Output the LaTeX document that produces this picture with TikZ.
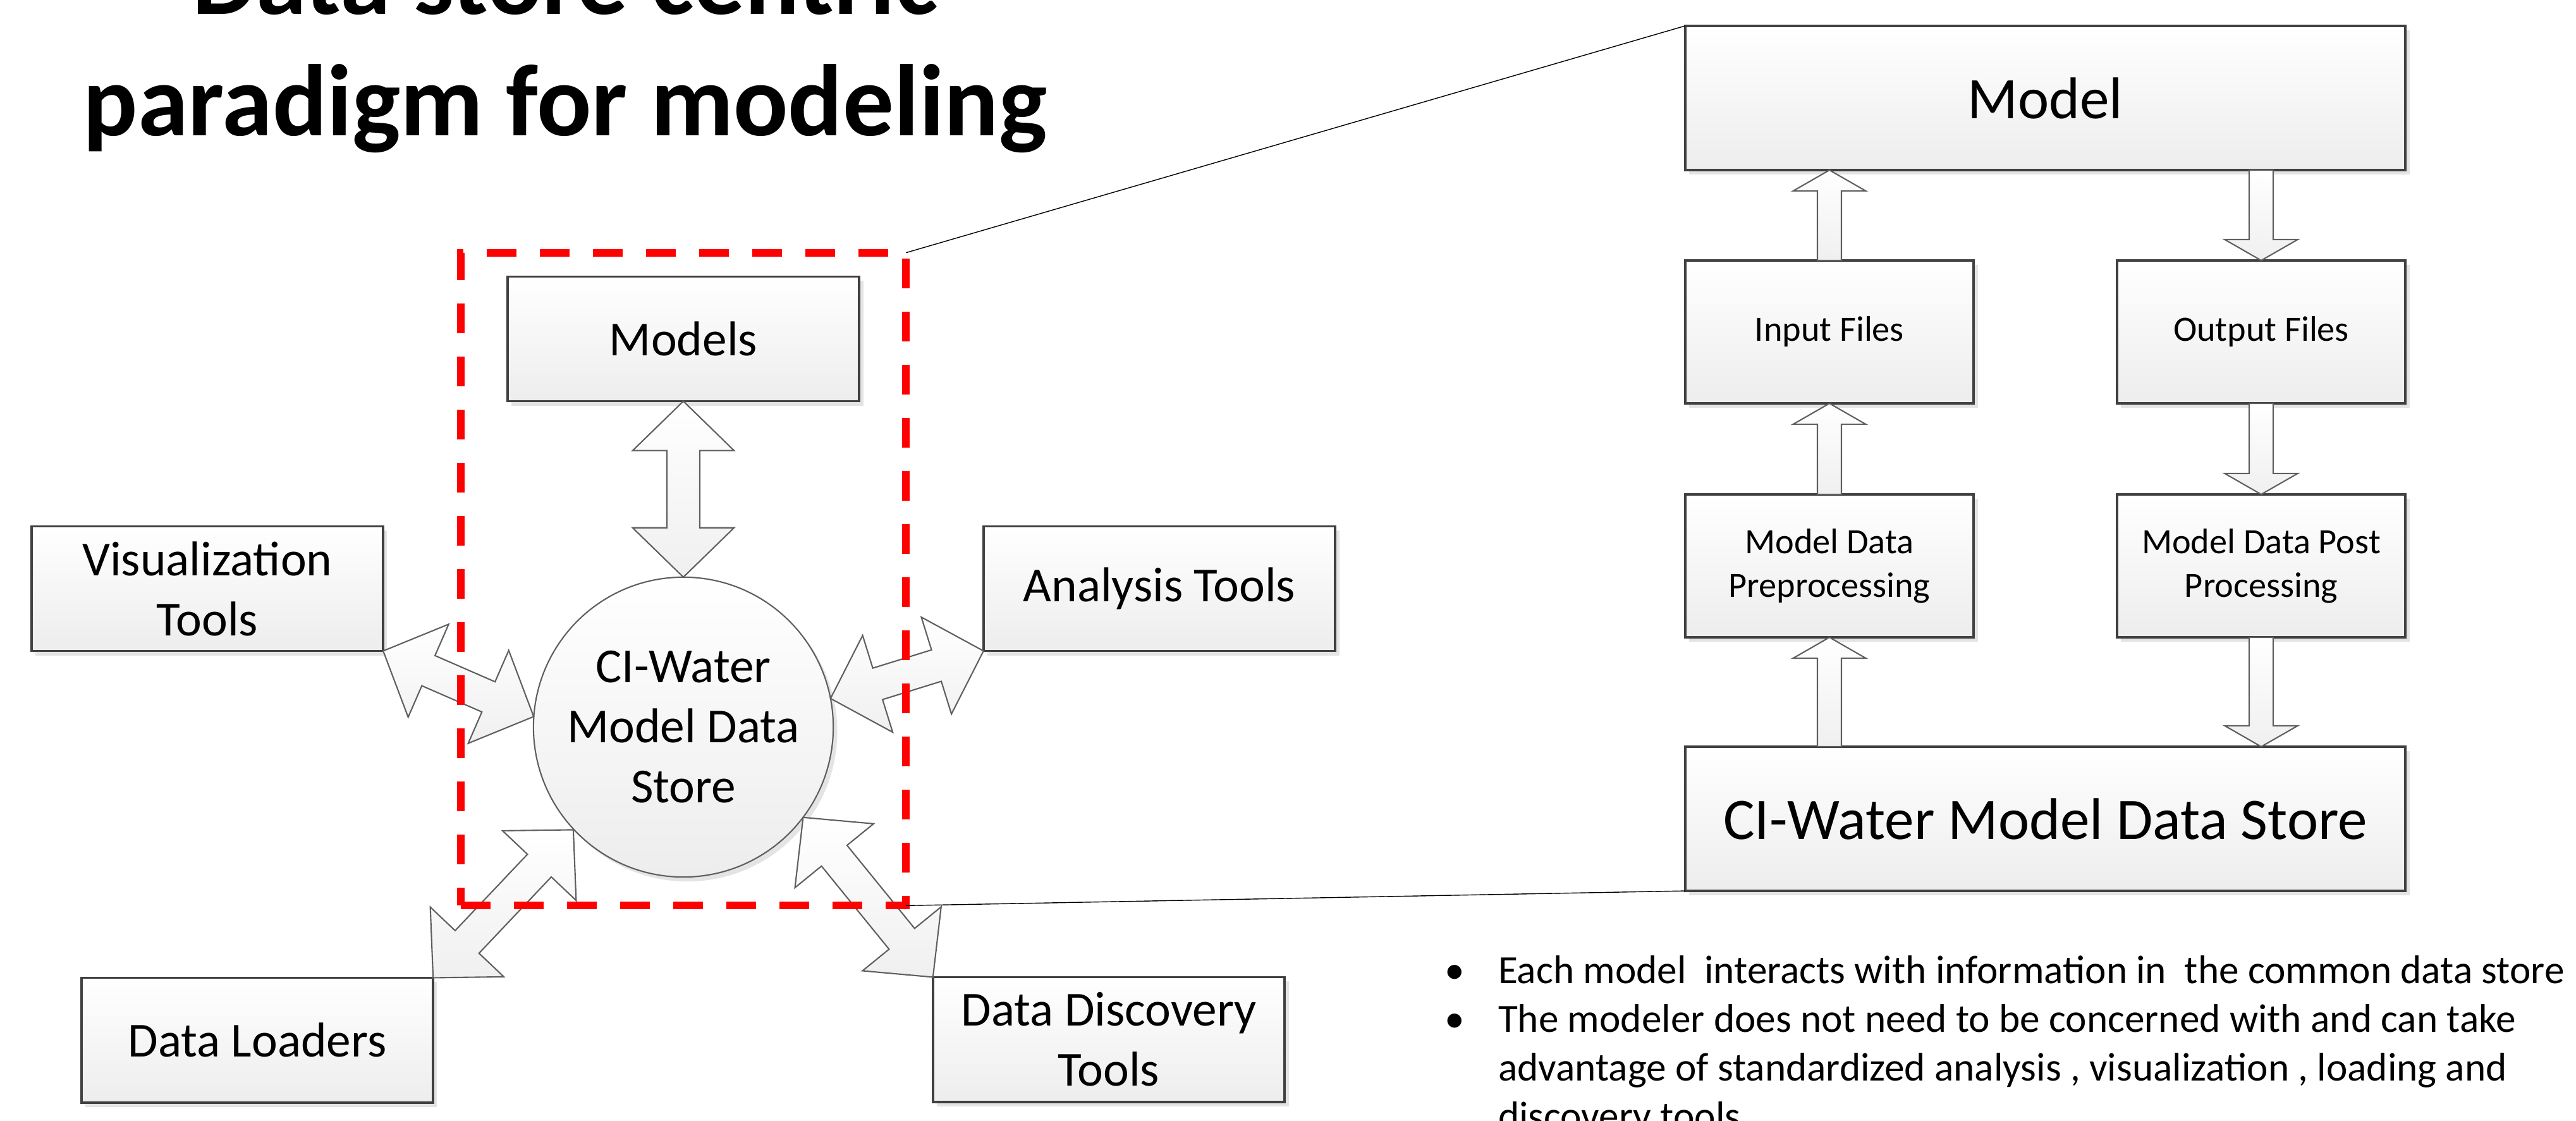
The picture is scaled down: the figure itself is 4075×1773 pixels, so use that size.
\documentclass[tikz,border=0pt]{standalone}
\usepackage{fontspec}
\setmainfont{Carlito}
\usetikzlibrary{calc,shadows}

\definecolor{boxline}{HTML}{404040}
\definecolor{arrowline}{HTML}{5F5F5F}
\definecolor{boxbottom}{HTML}{EDEDED}
\definecolor{shadowgray}{HTML}{E4E4E4}

\tikzset{
  box/.style={draw=boxline, line width=1.1pt, top color=white, bottom color=boxbottom,
    inner sep=0pt, outer sep=0pt, align=center,
    drop shadow={shadow xshift=1.8pt, shadow yshift=-2pt, fill=shadowgray, opacity=1}},
  toolbox/.style={box, minimum width=5.56cm, minimum height=1.97cm, font=\fontsize{22}{27}\selectfont},
  widebox/.style={box, minimum width=11.39cm, minimum height=2.28cm, font=\fontsize{26.5}{32}\selectfont},
  filebox/.style={box, minimum width=4.56cm, minimum height=2.26cm, font=\fontsize{16}{19.6}\selectfont},
  storecircle/.style={circle, draw=arrowline, line width=0.6pt, top color=white, bottom color=boxbottom,
    minimum size=4.74cm, inner sep=2pt, outer sep=0pt, align=center, font=\fontsize{22}{27}\selectfont,
    drop shadow={shadow xshift=1.8pt, shadow yshift=-2pt, fill=shadowgray, opacity=1}},
  blockarrow/.style={draw=arrowline, line width=0.6pt, line join=miter, top color=white, bottom color=black!6},
  zoomframe/.style={draw=red, line width=3.4pt, dash pattern=on 13.4pt off 10.5pt, inner sep=0pt, outer sep=0pt},
  zoomline/.style={draw=black, line width=0.4pt},
  title/.style={font=\fontsize{45.8}{54.6}\selectfont\bfseries},
  notes/.style={font=\fontsize{18}{21.9}\selectfont, inner sep=0pt}
}

\newcommand\arrowframe[2]{%
  \path let \p1=(#1), \p2=(#2) in
    \pgfextra{\pgfmathsetmacro\arrang{atan2(\y2-\y1,\x2-\x1)}\xdef\arrang{\arrang}%
              \pgfmathsetmacro\arrlen{veclen(\x2-\x1,\y2-\y1)}\xdef\arrlen{\arrlen}};}

\newcommand\twowayarrow[2]{%
  \arrowframe{#1}{#2}
  \begin{scope}[shift={(#1)}, rotate=\arrang, x=1pt, y=1pt]
    \draw[blockarrow] (0,0) -- (22.2,22.8) -- (22.2,7.4) -- ({\arrlen-22.2},7.4) -- ({\arrlen-22.2},22.8)
      -- (\arrlen,0) -- ({\arrlen-22.2},-22.8) -- ({\arrlen-22.2},-7.4) -- (22.2,-7.4) -- (22.2,-22.8) -- cycle;
  \end{scope}}

\newcommand\flowarrow[2]{%
  \arrowframe{#1}{#2}
  \begin{scope}[shift={(#1)}, rotate=\arrang, x=1pt, y=1pt]
    \draw[blockarrow] (0,5.4) -- ({\arrlen-9.4},5.4) -- ({\arrlen-9.4},16.4) -- (\arrlen,0)
      -- ({\arrlen-9.4},-16.4) -- ({\arrlen-9.4},-5.4) -- (0,-5.4) -- cycle;
  \end{scope}}

\begin{document}
\begin{tikzpicture}[x=0.01cm, y=-0.01cm]
    \useasboundingbox (0,0) rectangle (4075,1773);

    \node[title, anchor=base] (title1) at (894,23) {Data store centric};
    \node[title, anchor=base] (title2) at (894,215) {paradigm for modeling};

    \node[toolbox] (models) at (1081,536) {Models};
    \node[toolbox] (vis) at (328,931) {Visualization\\Tools};
    \node[toolbox] (ana) at (1834,931) {Analysis Tools};
    \node[toolbox] (dl) at (407,1645) {Data Loaders};
    \node[toolbox] (dd) at (1754,1644) {Data Discovery\\Tools};
    \node[storecircle] (store) at (1081,1150) {CI-Water\\Model Data\\Store};

    \twowayarrow{models.south}{store.north}
    \twowayarrow{vis.south east}{store.176}
    \twowayarrow{ana.south west}{store.11}
    \twowayarrow{dl.north east}{store.223}
    \twowayarrow{dd.north west}{store.323}

    \node[widebox] (model) at (3235.5,155) {Model};
    \node[filebox] (input) at (2894,525) {Input Files};
    \node[filebox] (output) at (3577,525) {Output Files};
    \node[filebox] (pre) at (2894,895) {Model Data\\Preprocessing};
    \node[filebox] (post) at (3577,895) {Model Data Post\\Processing};
    \node[widebox] (dstore) at (3235.5,1295) {CI-Water Model Data Store};

    \flowarrow{input.north}{input.north |- model.south}
    \flowarrow{pre.north}{input.south}
    \flowarrow{pre.north |- dstore.north}{pre.south}
    \flowarrow{output.north |- model.south}{output.north}
    \flowarrow{output.south}{post.north}
    \flowarrow{post.south}{post.south |- dstore.north}

    \node[zoomframe, minimum width=7.04cm, minimum height=10.32cm] (frame) at (1081,916) {};
    \draw[zoomline] (frame.north east) -- (model.north west);
    \draw[zoomline] (frame.south east) -- (dstore.south west);

    \node[notes, anchor=base west] (notes) at (2285,1555) {%
      \begin{tabular}[t]{@{}p{24pt}@{}l@{}}
        \textbullet & Each model~ interacts with information in~ the common data store\\
        \textbullet & The modeler does not need to be concerned with and can take\\
                    & advantage of standardized analysis , visualization , loading and\\
                    & discovery tools
      \end{tabular}};
\end{tikzpicture}
\end{document}
